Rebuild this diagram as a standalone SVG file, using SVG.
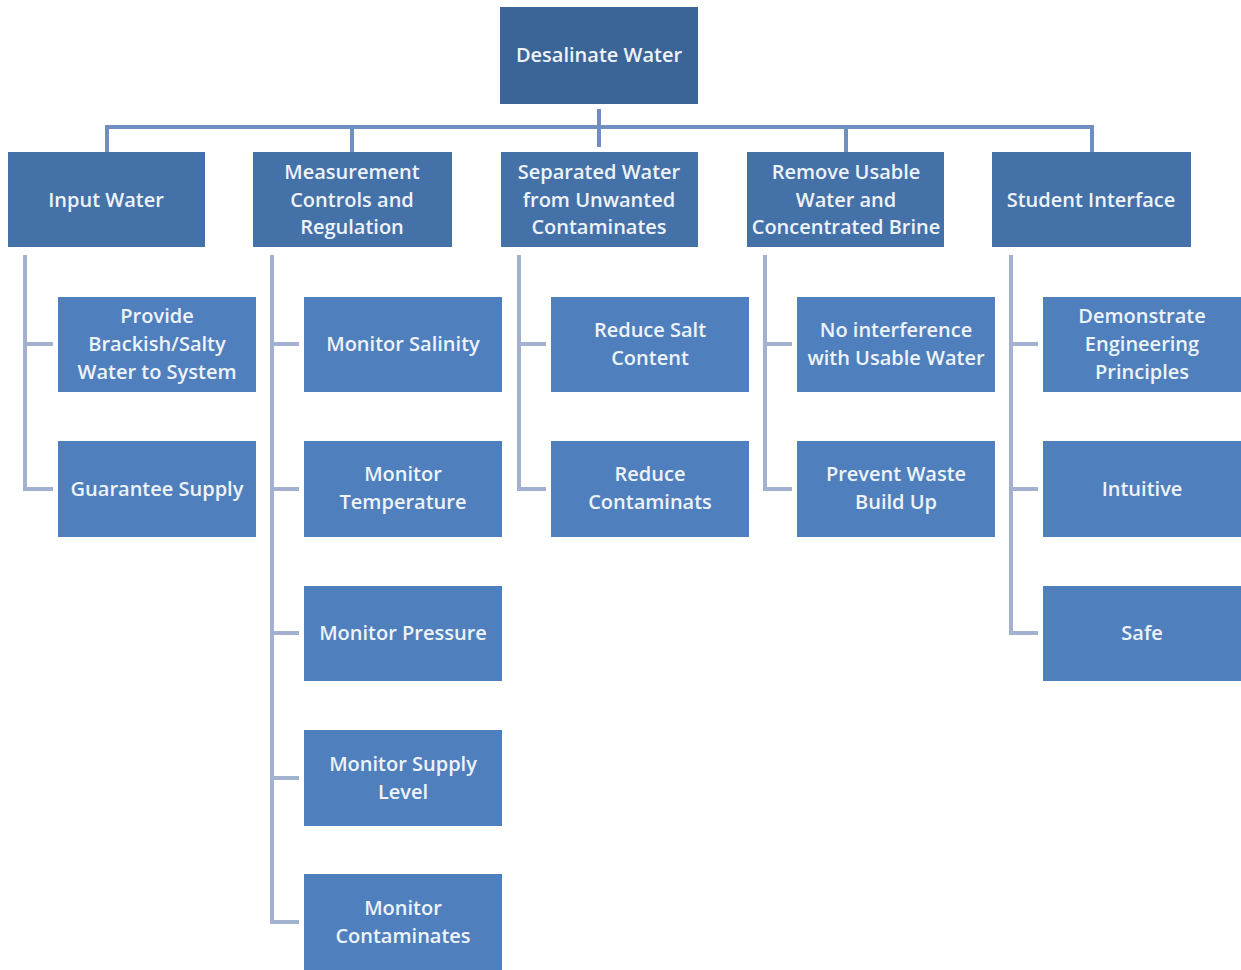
<svg xmlns="http://www.w3.org/2000/svg" width="1241" height="970" viewBox="0 0 1241 970">
<style>
.top{fill:#3b6497}
.l1{fill:#4471a8}
.l2{fill:#4f80bd}
text{font-family:"Open Sans","Liberation Sans",sans-serif;font-size:20px;font-weight:600;fill:#eef3fa;text-anchor:middle}
.bus{stroke:#6e8fbf;stroke-width:4;fill:none}
.br{stroke:#a3b1d0;stroke-width:4;fill:none}
</style>
<rect width="1241" height="970" fill="#ffffff"/>
<g id="connectors">
<path class="bus" d="M599 109V147M107 127H1092M107 125V152M352 125V152M846 125V152M1092 125V152"/>
<path class="br" d="M25 255V489H53M25 344H53"/>
<path class="br" d="M272 255V922H299M272 344H299M272 489H299M272 633H299M272 778H299"/>
<path class="br" d="M519 255V489H546M519 344H546"/>
<path class="br" d="M765 255V489H792M765 344H792"/>
<path class="br" d="M1011 255V633H1038M1011 344H1038M1011 489H1038"/>
</g>
<g id="n0"><rect class="top" x="500" y="7" width="198" height="97"/><text x="599" y="62">Desalinate Water</text></g>
<g id="n1"><rect class="l1" x="8" y="152" width="197" height="95"/><text x="106" y="207">Input Water</text></g>
<g id="n2"><rect class="l1" x="253" y="152" width="199" height="95"/><text x="352" y="179">Measurement</text><text x="352" y="207">Controls and</text><text x="352" y="234">Regulation</text></g>
<g id="n3"><rect class="l1" x="501" y="152" width="197" height="95"/><text x="599" y="179">Separated Water</text><text x="599" y="207">from Unwanted</text><text x="599" y="234">Contaminates</text></g>
<g id="n4"><rect class="l1" x="747" y="152" width="197" height="95"/><text x="846" y="179">Remove Usable</text><text x="846" y="207">Water and</text><text x="846" y="234">Concentrated Brine</text></g>
<g id="n5"><rect class="l1" x="992" y="152" width="199" height="95"/><text x="1091" y="207">Student Interface</text></g>
<g id="n1a"><rect class="l2" x="58" y="297" width="198" height="95"/><text x="157" y="323">Provide</text><text x="157" y="351">Brackish/Salty</text><text x="157" y="379">Water to System</text></g>
<g id="n1b"><rect class="l2" x="58" y="441" width="198" height="96"/><text x="157" y="496">Guarantee Supply</text></g>
<g id="n2a"><rect class="l2" x="304" y="297" width="198" height="95"/><text x="403" y="351">Monitor Salinity</text></g>
<g id="n2b"><rect class="l2" x="304" y="441" width="198" height="96"/><text x="403" y="481">Monitor</text><text x="403" y="509">Temperature</text></g>
<g id="n2c"><rect class="l2" x="304" y="586" width="198" height="95"/><text x="403" y="640">Monitor Pressure</text></g>
<g id="n2d"><rect class="l2" x="304" y="730" width="198" height="96"/><text x="403" y="771">Monitor Supply</text><text x="403" y="799">Level</text></g>
<g id="n2e"><rect class="l2" x="304" y="874" width="198" height="96"/><text x="403" y="915">Monitor</text><text x="403" y="943">Contaminates</text></g>
<g id="n3a"><rect class="l2" x="551" y="297" width="198" height="95"/><text x="650" y="337">Reduce Salt</text><text x="650" y="365">Content</text></g>
<g id="n3b"><rect class="l2" x="551" y="441" width="198" height="96"/><text x="650" y="481">Reduce</text><text x="650" y="509">Contaminats</text></g>
<g id="n4a"><rect class="l2" x="797" y="297" width="198" height="95"/><text x="896" y="337">No interference</text><text x="896" y="365">with Usable Water</text></g>
<g id="n4b"><rect class="l2" x="797" y="441" width="198" height="96"/><text x="896" y="481">Prevent Waste</text><text x="896" y="509">Build Up</text></g>
<g id="n5a"><rect class="l2" x="1043" y="297" width="198" height="95"/><text x="1142" y="323">Demonstrate</text><text x="1142" y="351">Engineering</text><text x="1142" y="379">Principles</text></g>
<g id="n5b"><rect class="l2" x="1043" y="441" width="198" height="96"/><text x="1142" y="496">Intuitive</text></g>
<g id="n5c"><rect class="l2" x="1043" y="586" width="198" height="95"/><text x="1142" y="640">Safe</text></g>
</svg>
